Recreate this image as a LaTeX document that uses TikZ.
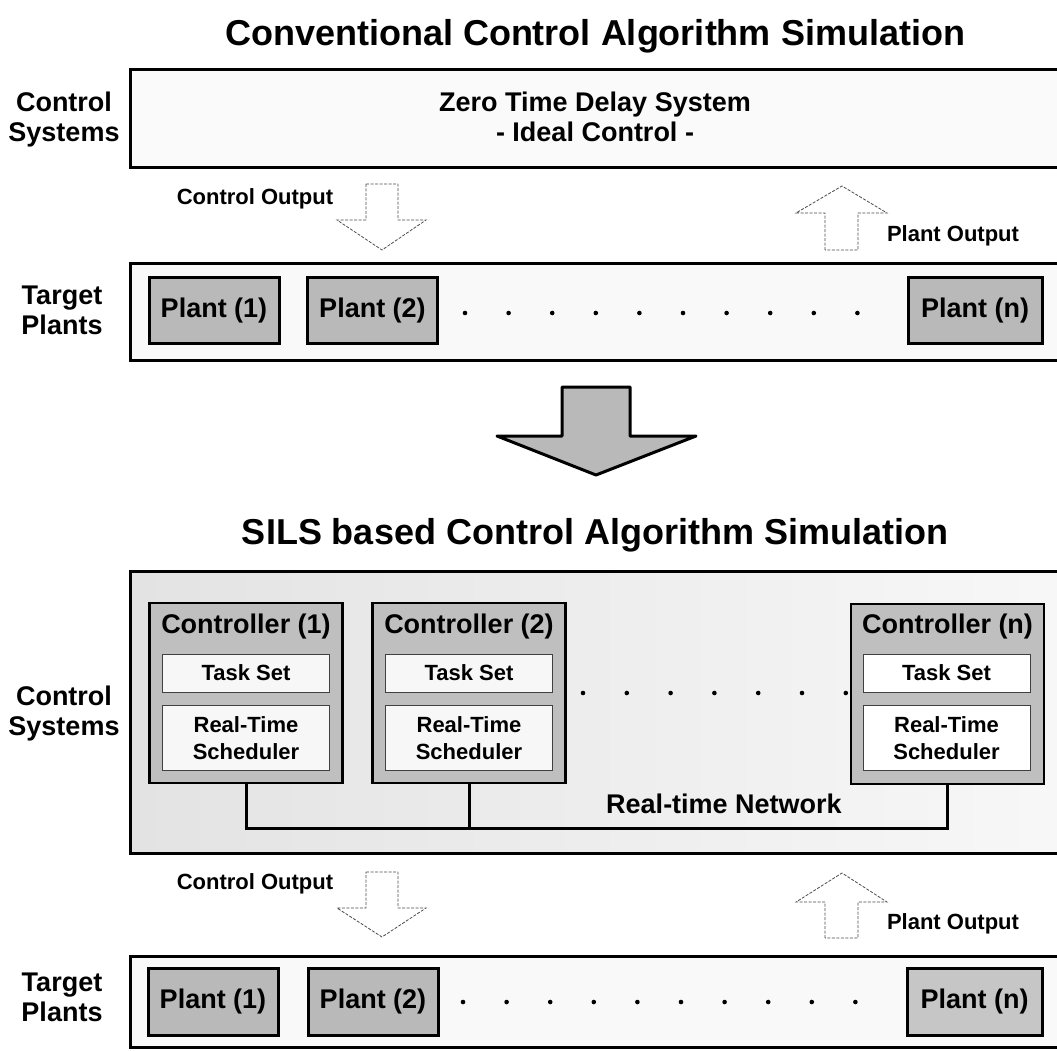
\documentclass[tikz,border=0pt]{standalone}
\usepackage{fontspec}
\setmainfont{Liberation Sans}
\begin{document}
\begin{tikzpicture}[x=1pt,y=-1pt,
  title/.style={font=\fontsize{36}{40}\selectfont\bfseries, inner sep=0, anchor=base},
  side/.style={font=\fontsize{27}{30}\selectfont\bfseries, align=center, inner sep=0},
  small/.style={font=\fontsize{22}{27}\selectfont\bfseries, inner sep=0, anchor=base},
  mid/.style={font=\fontsize{27}{30}\selectfont\bfseries, align=center, inner sep=0},
  bgbox/.style={draw=none, inner sep=0, outer sep=0, anchor=north west, minimum width=927},
  outer/.style={line width=3pt, line join=miter},
  plant/.style={draw=black, line width=3pt, fill=gray!55, minimum height=66, minimum width=130,
    inner sep=0, outer sep=0, font=\fontsize{27}{30}\selectfont\bfseries},
  ctrl/.style={draw=black, line width=2.5pt, fill=gray!50, minimum width=193, minimum height=180,
    inner sep=0, outer sep=0},
  ctitle/.style={font=\fontsize{27}{30}\selectfont\bfseries, inner sep=0},
  inbox/.style={draw=gray!50!black, line width=1pt, fill=white, minimum width=167, inner sep=0,
    outer sep=0, font=\fontsize{22}{27}\selectfont\bfseries, align=center},
  hollow/.style={draw=black!70, line width=0.8pt, fill=white, dash pattern=on 3pt off 1.5pt},
  bigarrow/.style={draw=black, line width=3pt, fill=gray!55, line join=round},
  net/.style={line width=3pt},
  dot/.style={fill=black}
]
\useasboundingbox (0,0) rectangle (1057,1050);

% ---------- Titles ----------
\node[title] (t1) at (595,45) {Conventional Control Algorithm Simulation};
\node[title] (t2) at (595,544) {SILS based Control Algorithm Simulation};

% ---------- Conventional: control systems ----------
\node[bgbox, fill=gray!4, minimum height=98] (cs1) at (130,69) {};
\draw[outer] (cs1.north east) -- (cs1.north west) -- (cs1.south west) -- (cs1.south east);
\node[side] (lcs1) at (64,120) {Control\\Systems};
\node[mid] (zero) at (595,117) {Zero Time Delay System\\- Ideal Control -};

% arrows
\draw[hollow] (366,184) -- (398,184) -- (398,220) -- (426,220) -- (382,250) -- (337,220) -- (366,220) -- cycle;
\draw[hollow] (825,250) -- (825,213) -- (796,213) -- (842,186) -- (887,213) -- (858,213) -- (858,250) -- cycle;
\node[small] (co1) at (255,204) {Control Output};
\node[small] (po1) at (953,241) {Plant Output};

% ---------- Conventional: target plants ----------
\node[bgbox, fill=gray!5, minimum height=97] (tp1) at (130,263) {};
\draw[outer] (tp1.north east) -- (tp1.north west) -- (tp1.south west) -- (tp1.south east);
\node[side] (ltp1) at (62,310) {Target\\Plants};
\node[plant] (p11) at (214,310.5) {Plant (1)};
\node[plant] (p12) at (372.5,310.5) {Plant (2)};
\node[plant, minimum width=134] (p1n) at (975,310.5) {Plant (n)};
\foreach \i in {0,...,9} \fill[dot] ({465+43.6*\i},313) circle (2.3pt);

% ---------- Big arrow ----------
\draw[bigarrow] (562,387) -- (630,387) -- (630,436) -- (696,436) -- (596,475) -- (497,436) -- (562,436) -- cycle;

% ---------- SILS: control systems ----------
\node[bgbox, left color=gray!22, right color=gray!6, minimum height=282] (cs2) at (130,571) {};
\draw[outer] (cs2.north east) -- (cs2.north west) -- (cs2.south west) -- (cs2.south east);
\node[side] (lcs2) at (64,714) {Control\\Systems};

\node[ctrl] (c1) at (246,693) {};
\node[ctitle] (c1h) at (246,627) {Controller (1)};
\node[inbox, fill=gray!6, minimum height=38] (c1a) at (246,673) {Task Set};
\node[inbox, fill=gray!6, minimum height=65] (c1b) at (246,738) {Real-Time\\Scheduler};

\node[ctrl] (c2) at (469,693) {};
\node[ctitle] (c2h) at (469,627) {Controller (2)};
\node[inbox, fill=gray!6, minimum height=38] (c2a) at (469,673) {Task Set};
\node[inbox, fill=gray!6, minimum height=65] (c2b) at (469,738) {Real-Time\\Scheduler};

\node[ctrl] (cn) at (947.5,694) {};
\node[ctitle] (cnh) at (947.5,627) {Controller (n)};
\node[inbox, minimum height=38] (cna) at (946.5,673) {Task Set};
\node[inbox, minimum height=65] (cnb) at (946.5,738) {Real-Time\\Scheduler};

\foreach \i in {0,...,6} \fill[dot] ({583+43.8*\i},693) circle (2.3pt);

\coordinate (bus) at (0,828);
\draw[net] (c1.south) -- (c1.south |- bus) -| (cn.south);
\draw[net] (c2.south) -- (c2.south |- bus);
\node[ctitle, anchor=base] (netl) at (724,813) {Real-time Network};

% arrows
\draw[hollow] (366,872) -- (398,872) -- (398,908) -- (426,908) -- (382,937) -- (337,908) -- (366,908) -- cycle;
\draw[hollow] (825,938) -- (825,902) -- (796,902) -- (842,873) -- (887,902) -- (858,902) -- (858,938) -- cycle;
\node[small] (co2) at (255,889) {Control Output};
\node[small] (po2) at (953,929) {Plant Output};

% ---------- SILS: target plants ----------
\node[bgbox, fill=gray!5, minimum height=91] (tp2) at (130,956) {};
\draw[outer] (tp2.north east) -- (tp2.north west) -- (tp2.south west) -- (tp2.south east);
\node[side] (ltp2) at (62,997) {Target\\Plants};
\node[plant, minimum height=67] (p21) at (213,1001.5) {Plant (1)};
\node[plant, minimum height=67] (p22) at (373,1001.5) {Plant (2)};
\node[plant, minimum height=67, minimum width=135, fill=gray!45] (p2n) at (974.5,1001.5) {Plant (n)};
\foreach \i in {0,...,9} \fill[dot] ({463+43.6*\i},1002) circle (2.3pt);
\end{tikzpicture}
\end{document}
